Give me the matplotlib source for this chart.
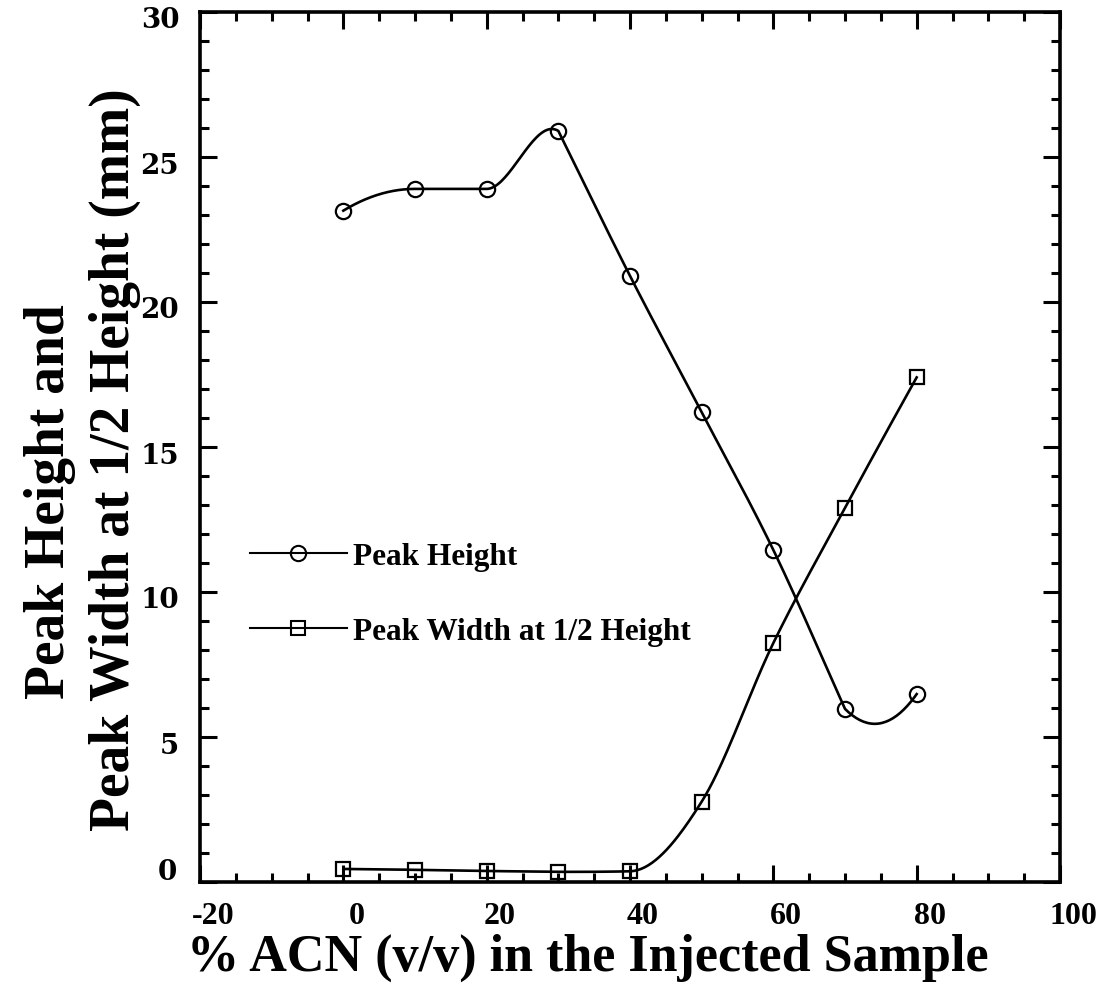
import numpy as np
import matplotlib
matplotlib.use('Agg')
import matplotlib.pyplot as pyplot
import matplotlib.ticker as ticker
import matplotlib.transforms as transforms

acn_percent = [0, 10, 20, 30, 40, 50, 60, 70, 80]
peak_height = [23.15, 23.9, 23.9, 25.9, 20.9, 16.2, 11.45, 5.97, 6.48]
peak_width = [0.45, 0.42, 0.38, 0.35, 0.37, 2.77, 8.24, 12.9, 17.4]

x_ticks = [-20, 0, 20, 40, 60, 80, 100]
y_ticks = [0, 5, 10, 15, 20, 25, 30]

serif = ['Liberation Serif', 'DejaVu Serif']


# ------------------------------------------------------------------------------
# Hermite curve through the measured points, like the original smoothed line:
# a kink at the peaks, monotone limited tangents elsewhere
#
def smooth_curve(x_values, y_values, steps=40):
    x = np.asarray(x_values, float)
    y = np.asarray(y_values, float)
    n = len(x)
    h = np.diff(x)
    d = np.diff(y) / h
    left = np.zeros(n)
    right = np.zeros(n)
    for i in range(1, n-1):
        catmull = (y[i+1] - y[i-1]) / (x[i+1] - x[i-1])
        if d[i-1] * d[i] < 0:
            if abs(d[i-1]) >= abs(d[i]):
                (left[i], right[i]) = (d[i-1], catmull)
            else:
                (left[i], right[i]) = (catmull, d[i])
        else:
            limit = 3 * min(abs(d[i-1]), abs(d[i]))
            slope = np.sign(catmull) * min(abs(catmull), limit)
            (left[i], right[i]) = (slope, slope)
    right[0] = 2*d[0] - left[1]
    left[-1] = 2*d[-1] - right[-2]
    t = np.linspace(0, 1, steps)
    h00 = 2*t**3 - 3*t**2 + 1
    h10 = t**3 - 2*t**2 + t
    h01 = -2*t**3 + 3*t**2
    h11 = t**3 - t**2
    curve_x = []
    curve_y = []
    for i in range(n-1):
        curve_x.extend(x[i] + h[i]*t)
        curve_y.extend(h00*y[i] + h10*h[i]*right[i]
                       + h01*y[i+1] + h11*h[i]*left[i+1])
    return curve_x, curve_y


figure = pyplot.figure(figsize=(11.03, 9.95), dpi=100)
axes = figure.add_axes([200/1103, 1 - 883/995, 860/1103, 870/995])

                                                                   # the curves
for (values, marker, size) in ((peak_height, 'o', 11), (peak_width, 's', 10.5)):
    (curve_x, curve_y) = smooth_curve(acn_percent, values)
    axes.plot(curve_x, curve_y, color='black', linewidth=1.9)
    axes.plot(acn_percent, values, linestyle='none', marker=marker,
              markersize=size, markerfacecolor='none',
              markeredgecolor='black', markeredgewidth=1.6)

                                                                   # the legend
axes.plot([], [], color='black', linewidth=1.5, marker='o', markersize=11,
          markerfacecolor='none', markeredgewidth=1.5, label='Peak Height')
axes.plot([], [], color='black', linewidth=1.5, marker='s', markersize=10.5,
          markerfacecolor='none', markeredgewidth=1.5,
          label='Peak Width at 1/2 Height')
axes.legend(loc='center left', bbox_to_anchor=(0.058, 0.331), frameon=False,
            borderpad=0, borderaxespad=0, handlelength=3.1,
            handletextpad=0.2, labelspacing=1.45, numpoints=1,
            prop={'family': serif, 'weight': 'bold', 'size': 22.5})

                                                                     # the axes
axes.set_xlim(-20, 100)
axes.set_ylim(0, 30)
axes.xaxis.set_major_locator(ticker.FixedLocator(x_ticks))
axes.xaxis.set_minor_locator(ticker.MultipleLocator(5))
axes.yaxis.set_major_locator(ticker.FixedLocator(y_ticks))
axes.yaxis.set_minor_locator(ticker.MultipleLocator(1))
axes.tick_params(which='both', direction='in', top=True, right=True,
                 width=2.2, color='black')
axes.tick_params(which='major', length=12)
axes.tick_params(which='minor', length=6.5)
axes.tick_params(axis='x', which='major', pad=14)
axes.tick_params(axis='y', which='major', pad=15)
for spine in axes.spines.values():
    spine.set_linewidth(2.6)

axes.set_xticklabels([str(v) for v in x_ticks])
axes.set_yticklabels([str(v) for v in y_ticks])
x_shift = transforms.ScaledTranslation(13/100, 0, figure.dpi_scale_trans)
y_shift = transforms.ScaledTranslation(0, -5/100, figure.dpi_scale_trans)
zero_shift = transforms.ScaledTranslation(-2/100, 13/100,
                                          figure.dpi_scale_trans)
for label in axes.get_xticklabels():
    label.set_fontfamily(serif)
    label.set_fontweight('bold')
    label.set_fontsize(23)
    label.set_transform(label.get_transform() + x_shift)
for label in axes.get_yticklabels():
    label.set_fontfamily('DejaVu Serif')
    label.set_fontweight('bold')
    label.set_fontsize(20)
    if label.get_text() == '0':
        label.set_transform(label.get_transform() + zero_shift)
    else:
        label.set_transform(label.get_transform() + y_shift)

                                                                   # the titles
figure.text(588/1103, 1 - 958/995, '% ACN (v/v) in the Injected Sample',
            ha='center', va='center', fontsize=37.5, fontweight='bold',
            family=serif)
figure.text(50/1103, 1 - 502/995, 'Peak Height and', rotation=90,
            ha='center', va='center', fontsize=40, fontweight='bold',
            family=serif)
figure.text(115/1103, 1 - 460/995, 'Peak Width at 1/2 Height (mm)',
            rotation=90, ha='center', va='center', fontsize=40,
            fontweight='bold', family=serif)

figure.savefig('out.png', dpi=100)
